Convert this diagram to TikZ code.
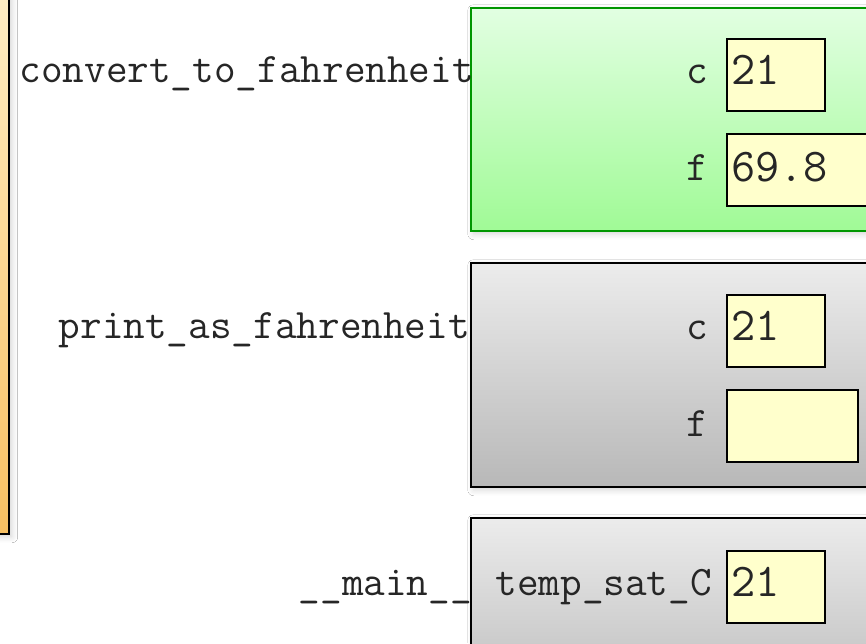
\documentclass[tikz,border=0pt]{standalone}
\usetikzlibrary{shadows.blur}
\definecolor{orangeTop}{RGB}{255,242,205}
\definecolor{orangeBot}{RGB}{247,192,98}
\definecolor{greenTop}{RGB}{226,255,226}
\definecolor{greenBot}{RGB}{160,250,150}
\definecolor{greenLine}{RGB}{0,150,0}
\definecolor{grayTop}{RGB}{236,236,236}
\definecolor{grayBot}{RGB}{184,184,184}
\definecolor{valFill}{RGB}{255,255,204}
\tikzset{
  shad/.style={blur shadow={shadow xshift=3pt, shadow yshift=-3pt, shadow blur steps=6, shadow opacity=18, shadow blur radius=6pt}},
  framebox/.style={rectangle, draw=black, line width=1.5pt, anchor=north west, inner sep=0pt, shad},
  greenframe/.style={framebox, draw=greenLine, top color=greenTop, bottom color=greenBot},
  grayframe/.style={framebox, top color=grayTop, bottom color=grayBot},
  valbox/.style={rectangle, draw=black, line width=1.5pt, fill=valFill, anchor=north west, inner sep=0pt, minimum height=72pt},
  txt/.style={font=\ttfamily\fontsize{42}{50}\selectfont, inner sep=0pt, text=black!85},
  lbl/.style={txt, anchor=base east},
  val/.style={txt, font=\ttfamily\fontsize{47}{55}\selectfont, anchor=base west},
}
\begin{document}
\begin{tikzpicture}[x=1pt,y=-1pt]
\clip (0,0) rectangle (866,643);
\fill[white] (0,0) rectangle (866,643);
% orange box
\node[framebox, top color=orangeTop, bottom color=orangeBot, minimum width=70pt, minimum height=593pt] (heap) at (-62,-60) {};
% frame 1
\node[greenframe, minimum width=420pt, minimum height=223pt] (f1) at (470,7) {};
\node[lbl] (f1name) at (474,82) {convert\_to\_fahrenheit};
\node[lbl] (f1cl) at (708,83) {c};
\node[valbox, minimum width=98pt] (f1cb) at (726,38) {};
\node[val] (f1cv) at (731,84) {21};
\node[lbl] (f1fl) at (708,180) {f};
\node[valbox, minimum width=160pt] (f1fb) at (726,133) {};
\node[val] (f1fv) at (731,181) {69.8};
% frame 2
\node[grayframe, minimum width=420pt, minimum height=224pt] (f2) at (470,262) {};
\node[lbl] (f2name) at (470,338) {print\_as\_fahrenheit};
\node[lbl] (f2cl) at (708,339) {c};
\node[valbox, minimum width=98pt] (f2cb) at (726,294) {};
\node[val] (f2cv) at (731,340) {21};
\node[lbl] (f2fl) at (708,436) {f};
\node[valbox, minimum width=131pt] (f2fb) at (726,389) {};
% frame 3
\node[grayframe, minimum width=420pt, minimum height=200pt] (f3) at (470,517) {};
\node[lbl] (f3name) at (472,595) {\_\_main\_\_};
\node[lbl] (f3l) at (712,595) {temp\_sat\_C};
\node[valbox, minimum width=98pt] (f3b) at (726,550) {};
\node[val] (f3v) at (731,596) {21};
\end{tikzpicture}
\end{document}
